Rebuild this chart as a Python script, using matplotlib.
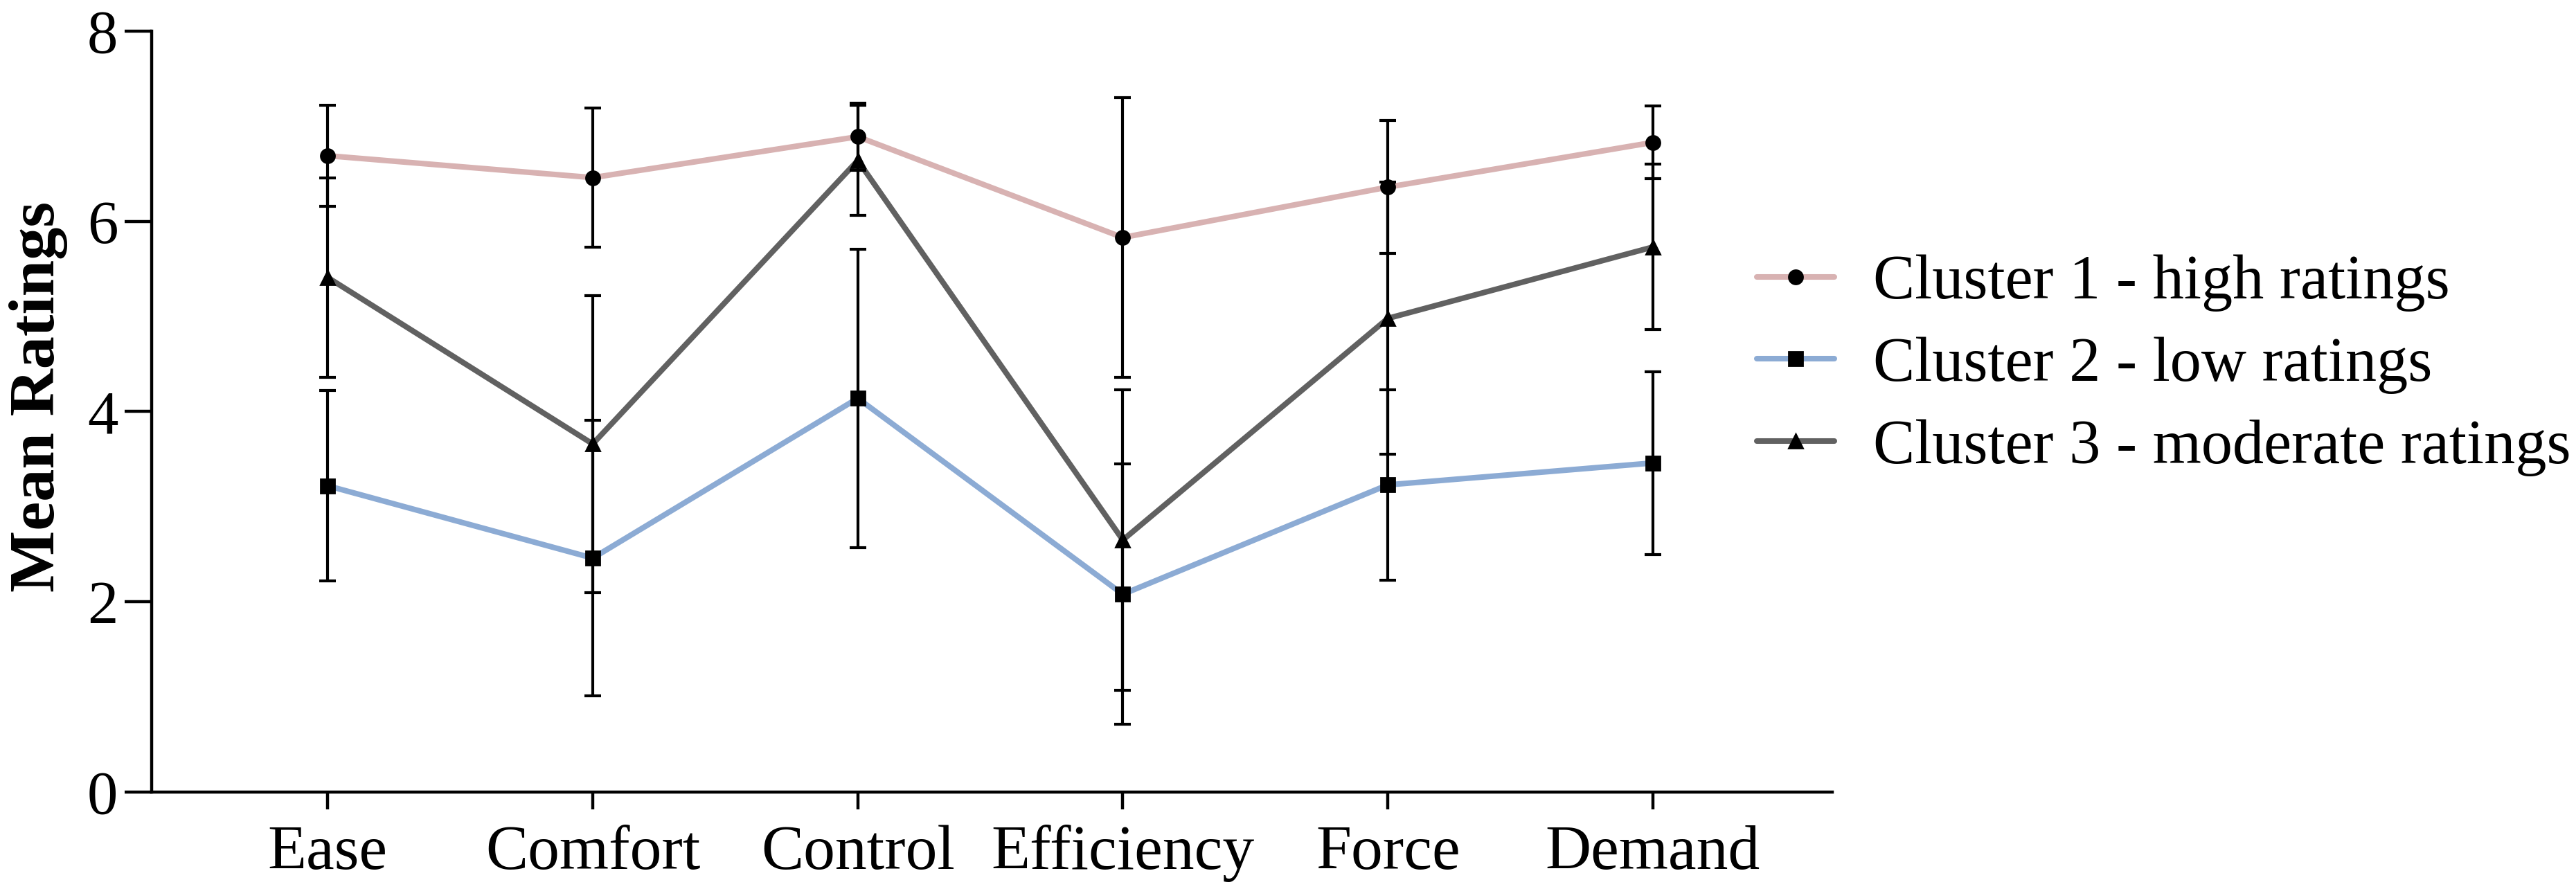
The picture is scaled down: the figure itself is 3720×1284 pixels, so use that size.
import numpy as np
import matplotlib
matplotlib.use("Agg")
import matplotlib.pyplot as plt

# categorías y medias por cluster
categories = ['Ease', 'Comfort', 'Control', 'Efficiency', 'Force', 'Demand']
labels = ['Cluster 1 - high ratings', 'Cluster 2 - low ratings',
          'Cluster 3 - moderate ratings']

mean_c1 = [6.69, 6.46, 6.89, 5.83, 6.36, 6.83]
mean_c2 = [3.22, 2.46, 4.14, 2.08, 3.23, 3.46]
mean_c3 = [5.41, 3.66, 6.64, 2.65, 4.98, 5.73]

sd_c1 = [0.53, 0.73, 0.35, 1.47, 0.70, 0.38]
sd_c2 = [1.00, 1.45, 1.57, 1.37, 1.00, 0.96]
sd_c3 = [1.05, 1.56, 0.58, 1.58, 1.43, 0.87]

colors = ['#d8b2b2', '#8cabd4', '#616161']
markers = ['o', 's', '^']

plt.rcParams['font.family'] = ['Liberation Serif', 'DejaVu Serif']

fig = plt.figure(figsize=(18.6, 6.42), dpi=200)
ax = fig.add_axes([0.0589, 0.109, 0.6524, 0.856])

x = np.arange(len(categories))
means = [mean_c1, mean_c2, mean_c3]
sds = [sd_c1, sd_c2, sd_c3]

for m, s, col, mk, lab in zip(means, sds, colors, markers, labels):
    ax.plot(x, m, color=col, lw=2.9, marker=mk, markersize=7.2,
            markerfacecolor='black', markeredgecolor='black',
            solid_capstyle='round', label=lab, zorder=2)
    ax.errorbar(x, m, yerr=s, fmt='none', ecolor='black', elinewidth=1.5,
                capsize=4.2, capthick=1.5, zorder=3)

ax.set_xlim(-0.664, 5.677)
ax.set_ylim(0, 8)
ax.set_yticks([0, 2, 4, 6, 8])
ax.set_xticks(x)
ax.set_xticklabels(categories)

for side in ['top', 'right']:
    ax.spines[side].set_visible(False)
for side in ['left', 'bottom']:
    ax.spines[side].set_linewidth(1.6)

ax.tick_params(axis='y', length=14, width=1.6, pad=3.5, labelsize=32)
ax.tick_params(axis='x', length=9, width=1.6, pad=8, labelsize=33)

ax.set_ylabel('Mean Ratings', fontsize=34, fontweight='bold')
ax.yaxis.set_label_coords(-0.05, 0.52)

ax.legend(loc='center left', bbox_to_anchor=(0.682, 0.589),
          bbox_transform=fig.transFigure, frameon=False, fontsize=32.5,
          handlelength=1.24, handletextpad=0.62, labelspacing=0.4,
          borderpad=0, borderaxespad=0)

fig.savefig('out.png', dpi=200)
